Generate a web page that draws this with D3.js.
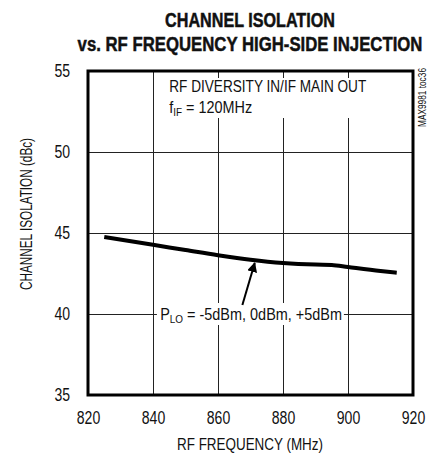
<!DOCTYPE html>
<html>
<head>
<meta charset="utf-8">
<script src="https://cdn.jsdelivr.net/npm/d3@7"></script>
<style>
  body { margin: 0; background: #fff; }
  text { font-family: "Liberation Sans", Arial, sans-serif; fill: #111; }
</style>
</head>
<body>
<div id="chart"></div>
<script>
// data
var freq = [825, 840, 850, 860, 870, 880, 890, 895, 900, 910, 915];
var isolation = [44.75, 44.27, 43.95, 43.63, 43.35, 43.15, 43.05, 43.03, 42.9, 42.65, 42.55];
var xTicks = [820, 840, 860, 880, 900, 920];
var yTicks = [35, 40, 45, 50, 55];

var margin = {top: 71, right: 21, bottom: 60, left: 88},
    width = 434 - margin.left - margin.right,
    height = 455 - margin.top - margin.bottom;

// squeeze text horizontally, the fonts here are not condensed
function narrow(sel, k) {
  sel.each(function() {
    var w = this.getComputedTextLength();
    d3.select(this).attr("textLength", w * k).attr("lengthAdjust", "spacingAndGlyphs");
  });
}
function fitTo(sel, w) {
  sel.attr("textLength", w).attr("lengthAdjust", "spacingAndGlyphs");
}
// text with subscripts: squeeze the whole group instead
function subText(parent, px, py, main, sub, rest, w) {
  var grp = parent.append("g");
  var t = grp.append("text").style("font-size", "16px");
  t.append("tspan").text(main);
  t.append("tspan").attr("dy", 3).style("font-size", "11px").text(sub);
  t.append("tspan").attr("dy", -3).text(rest);
  var k = w / t.node().getBBox().width;
  grp.attr("transform", "translate(" + px + "," + py + ")scale(" + k + ",1)");
  return grp;
}
// centred bold title line, scaled to width w
function titleLine(cx, cy, str, w) {
  var grp = svg.append("g");
  var t = grp.append("text")
    .attr("text-anchor", "middle")
    .style("font-weight", "bold").style("font-size", "21px")
    .attr("stroke", "#111").attr("stroke-width", 0.5)
    .text(str);
  var k = w / t.node().getBBox().width;
  grp.attr("transform", "translate(" + cx + "," + cy + ")scale(" + k + ",1)");
}

var svg = d3.select("#chart")
  .append("svg")
    .attr("width", 434)
    .attr("height", 455);

// title
titleLine(250, 27, "CHANNEL ISOLATION", 170);
titleLine(250, 51, "vs. RF FREQUENCY HIGH-SIDE INJECTION", 345);

var g = svg.append("g")
  .attr("transform", "translate(" + margin.left + "," + margin.top + ")");

var x = d3.scaleLinear().domain([820, 920]).range([0, width]);
var y = d3.scaleLinear().domain([35, 55]).range([height, 0]);

// grid
g.append("g")
  .call(d3.axisBottom(x).tickValues(xTicks).tickSize(height).tickFormat(""))
  .call(function(s) { s.select(".domain").remove(); })
  .selectAll("line").attr("stroke", "#222").attr("stroke-width", 1);
g.append("g")
  .call(d3.axisLeft(y).tickValues(yTicks).tickSize(-width).tickFormat(""))
  .call(function(s) { s.select(".domain").remove(); })
  .selectAll("line").attr("stroke", "#222").attr("stroke-width", 1);

// tick labels
g.append("g")
  .attr("transform", "translate(0," + height + ")")
  .call(d3.axisBottom(x).tickValues(xTicks).tickSize(0).tickPadding(16))
  .call(function(s) { s.select(".domain").remove(); })
  .selectAll("text")
    .style("font-family", "Liberation Sans").style("font-size", "18px").attr("fill", "#111")
    .call(narrow, 0.78);
g.append("g")
  .call(d3.axisLeft(y).tickValues(yTicks).tickSize(0).tickPadding(18))
  .call(function(s) { s.select(".domain").remove(); })
  .selectAll("text")
    .style("font-family", "Liberation Sans").style("font-size", "18px").attr("fill", "#111")
    .call(narrow, 0.78);

// axis titles
svg.append("text")
  .attr("x", 250).attr("y", 450)
  .attr("text-anchor", "middle")
  .style("font-size", "16px")
  .text("RF FREQUENCY (MHz)")
  .call(fitTo, 146);
svg.append("text")
  .attr("transform", "translate(32,214)rotate(-90)")
  .attr("text-anchor", "middle")
  .style("font-size", "16px")
  .text("CHANNEL ISOLATION (dBc)")
  .call(fitTo, 152);

// annotations with white backgrounds
var note1 = g.append("g");
note1.append("rect").attr("x", x(843.5)).attr("y", 7).attr("width", 200).attr("height", 40).attr("fill", "#fff");
note1.append("text")
  .attr("x", x(845)).attr("y", 21)
  .style("font-size", "16px")
  .text("RF DIVERSITY IN/IF MAIN OUT")
  .call(fitTo, 197);
subText(note1, x(845), 42, "f", "IF", " = 120MHz", 83);

var note2 = g.append("g");
note2.append("rect").attr("x", x(841.2)).attr("y", y(40) - 11).attr("width", 187).attr("height", 22).attr("fill", "#fff");
subText(note2, x(842.2), y(40) + 6, "P", "LO", " = -5dBm, 0dBm, +5dBm", 182);

// arrow
svg.append("defs").append("marker")
  .attr("id", "arrow")
  .attr("viewBox", "0 0 10 10")
  .attr("refX", 9).attr("refY", 5)
  .attr("markerWidth", 5).attr("markerHeight", 5)
  .attr("orient", "auto")
  .append("path").attr("d", "M0,0L10,5L0,10z").attr("fill", "#000");
g.append("line")
  .attr("x1", x(867.5)).attr("y1", y(40.55))
  .attr("x2", x(871.3)).attr("y2", y(43.15))
  .attr("stroke", "#000").attr("stroke-width", 2)
  .attr("marker-end", "url(#arrow)");

// curve
g.append("path")
  .datum(freq.map(function(f, i) { return {f: f, v: isolation[i]}; }))
  .attr("fill", "none")
  .attr("stroke", "#000")
  .attr("stroke-width", 4)
  .attr("d", d3.line()
    .x(function(d) { return x(d.f); })
    .y(function(d) { return y(d.v); })
    .curve(d3.curveMonotoneX));

// frame
g.append("rect")
  .attr("width", width).attr("height", height)
  .attr("fill", "none").attr("stroke", "#000").attr("stroke-width", 3);

// part number
svg.append("text")
  .attr("transform", "translate(426,68)rotate(-90)")
  .attr("text-anchor", "end")
  .style("font-size", "10px")
  .text("MAX9981 toc36")
  .call(fitTo, 59);
</script>
</body>
</html>
